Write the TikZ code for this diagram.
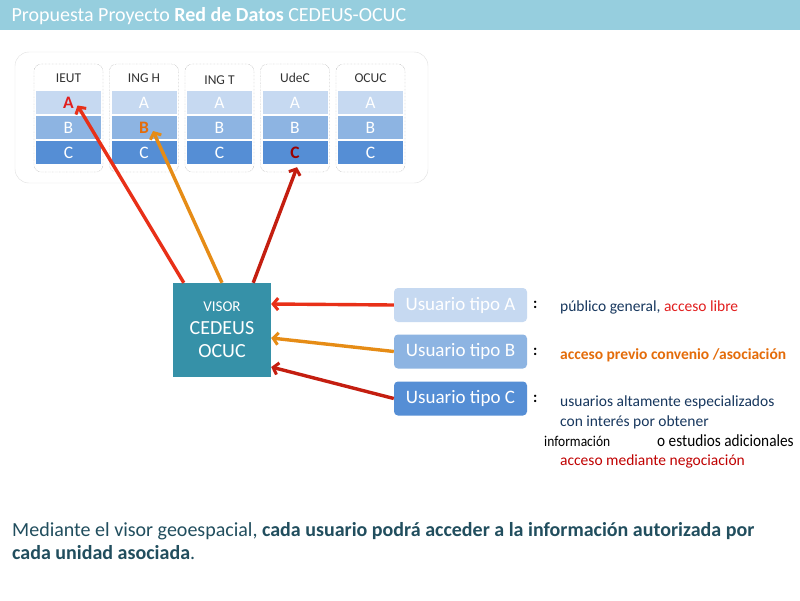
\documentclass[tikz,border=0pt]{standalone}
\usepackage{fontspec}
\setmainfont{Carlito}
\newfontfamily\narrowfont[FakeStretch=0.9]{Carlito}
\usetikzlibrary{arrows.meta}
\definecolor{bandblue}{RGB}{150,206,222}
\definecolor{visorteal}{RGB}{54,145,168}
\definecolor{rowA}{RGB}{198,217,241}
\definecolor{rowB}{RGB}{141,180,226}
\definecolor{rowC}{RGB}{85,142,213}
\definecolor{navytext}{RGB}{23,55,94}
\definecolor{bottomtext}{RGB}{33,78,94}
\definecolor{arrred}{RGB}{232,48,24}
\definecolor{arrorange}{RGB}{230,140,22}
\definecolor{arrdark}{RGB}{196,30,16}
\definecolor{txtorange}{RGB}{228,108,10}
\definecolor{txtred}{RGB}{226,30,30}
\definecolor{txtdark}{RGB}{192,0,0}
\tikzset{
  colbox/.style={draw=black!45, densely dotted, rounded corners=7pt, fill=white, minimum width=69pt, minimum height=108pt},
  coltitle/.style={font=\fontsize{13.5}{15}\selectfont, text=black!80},
  rowa/.style={fill=rowA, text=white, minimum width=65pt, minimum height=23pt, inner sep=0pt, font=\fontsize{17.5}{19}\selectfont},
  rowb/.style={rowa, fill=rowB},
  rowc/.style={rowa, fill=rowC},
  usrbox/.style={rounded corners=4pt, minimum width=133pt, minimum height=34pt, text=white, font=\fontsize{19}{21}\selectfont},
  desc/.style={anchor=west, inner sep=0pt, font=\fontsize{15.5}{17}\selectfont},
  link/.style={line width=3.4pt, -{Straight Barb[length=5pt,width=12pt,line width=3pt]}}
}
\begin{document}
\begin{tikzpicture}[x=1pt, y=-1pt]
			\useasboundingbox[fill=white] (0, 0) rectangle (800, 600);
			
			% header
			\fill[bandblue] (0, 0) rectangle (800, 30);
			\node[anchor=west, text=white, font=\fontsize{20}{22}\selectfont] (title) at (8, 16) {Propuesta Proyecto \textbf{Red de Datos} CEDEUS-OCUC};
			
			% units
			\draw[draw=black!12, fill=white, rounded corners=14pt] (15, 52) rectangle (428, 183);
			
			\node[colbox] (ieut) at (68.5, 118) {};
			\node[coltitle] at (68.5, 78) {IEUT};
			\node[rowa] (ieutA) at (68.5, 102.5) {\textbf{\color{txtred}A}};
			\node[rowb] (ieutB) at (68.5, 127.5) {B};
			\node[rowc] (ieutC) at (68.5, 152.5) {C};
			
			\node[colbox] (ingh) at (144, 118) {};
			\node[coltitle] at (144, 78) {ING H};
			\node[rowa] (inghA) at (144, 102.5) {A};
			\node[rowb] (inghB) at (144, 127.5) {\textbf{\color{txtorange}B}};
			\node[rowc] (inghC) at (144, 152.5) {C};
			
			\node[colbox] (ingt) at (219.5, 118) {};
			\node[coltitle] at (219.5, 80) {ING T};
			\node[rowa] (ingtA) at (219.5, 102.5) {A};
			\node[rowb] (ingtB) at (219.5, 127.5) {B};
			\node[rowc] (ingtC) at (219.5, 152.5) {C};
			
			\node[colbox] (udec) at (295, 118) {};
			\node[coltitle] at (295, 78) {UdeC};
			\node[rowa] (udecA) at (295, 102.5) {A};
			\node[rowb] (udecB) at (295, 127.5) {B};
			\node[rowc] (udecC) at (295, 152.5) {\textbf{\color{txtdark!80!black}C}};
			
			\node[colbox] (ocuc) at (370.5, 118) {};
			\node[coltitle] at (370.5, 78) {OCUC};
			\node[rowa] (ocucA) at (370.5, 102.5) {A};
			\node[rowb] (ocucB) at (370.5, 127.5) {B};
			\node[rowc] (ocucC) at (370.5, 152.5) {C};
			
			% visor
			\node[fill=visorteal, text=white, minimum width=98pt, minimum height=94pt, align=center, font=\fontsize{20}{23}\selectfont] (visor) at (222, 330) {{\fontsize{15}{18}\selectfont VISOR}\\CEDEUS\\OCUC};
			
			% users
			\node[usrbox, fill=rowA] (usuA) at (460.5, 305) {Usuario tipo A};
			\node[usrbox, fill=rowB] (usuB) at (460.5, 351.5) {Usuario tipo B};
			\node[usrbox, fill=rowC] (usuC) at (460.5, 398.5) {Usuario tipo C};
			
			\node[desc] (colA) at (533, 305) {\textbf{:}};
			\node[desc] (colB) at (533, 352) {\textbf{:}};
			\node[desc] (colC) at (533, 399) {\textbf{:}};
			
			\node[desc, text=navytext] (descA) at (560, 307) {público general, {\color{txtred}acceso libre}};
			\node[desc, text=txtorange] (descB) at (560, 355) {\textbf{acceso previo convenio /asociación}};
			\node[desc, text=navytext] (descC1) at (560, 402) {usuarios altamente especializados};
			\node[desc, text=navytext] (descC2) at (560, 422) {con interés por obtener};
			\node[desc, font=\narrowfont\fontsize{15}{17}\selectfont] (descC3) at (544, 441) {información};
			\node[desc, font=\narrowfont\fontsize{17}{18}\selectfont] (descC4) at (657, 441) {o estudios adicionales};
			\node[desc, text=txtdark] (descC5) at (560, 461) {acceso mediante negociación};
			
			% connectors
			\draw[link, arrred] ([xshift=11pt]visor.north west) -- ([shift={(9,3)}]ieutA.center);
			\draw[link, arrorange] (visor.north) -- ([shift={(9,3.5)}]inghB.center);
			\draw[link, arrdark] ([xshift=-18pt]visor.north east) -- ([shift={(2,3)}]udecC.south);
			
			\draw[link, arrred] (usuA.west) -- ([yshift=26pt]visor.east);
			\draw[link, arrorange] (usuB.west) -- ([yshift=-8pt]visor.east);
			\draw[link, arrdark] (usuC.west) -- ([yshift=-37pt]visor.east);
			
			% note
			\node[anchor=north west, align=left, inner sep=0pt, text=bottomtext, font=\fontsize{20}{23}\selectfont] (note) at (12, 522) {Mediante el visor geoespacial, \textbf{cada usuario podrá acceder a la información autorizada por}\\\textbf{cada unidad asociada}.};
\end{tikzpicture}
\end{document}
